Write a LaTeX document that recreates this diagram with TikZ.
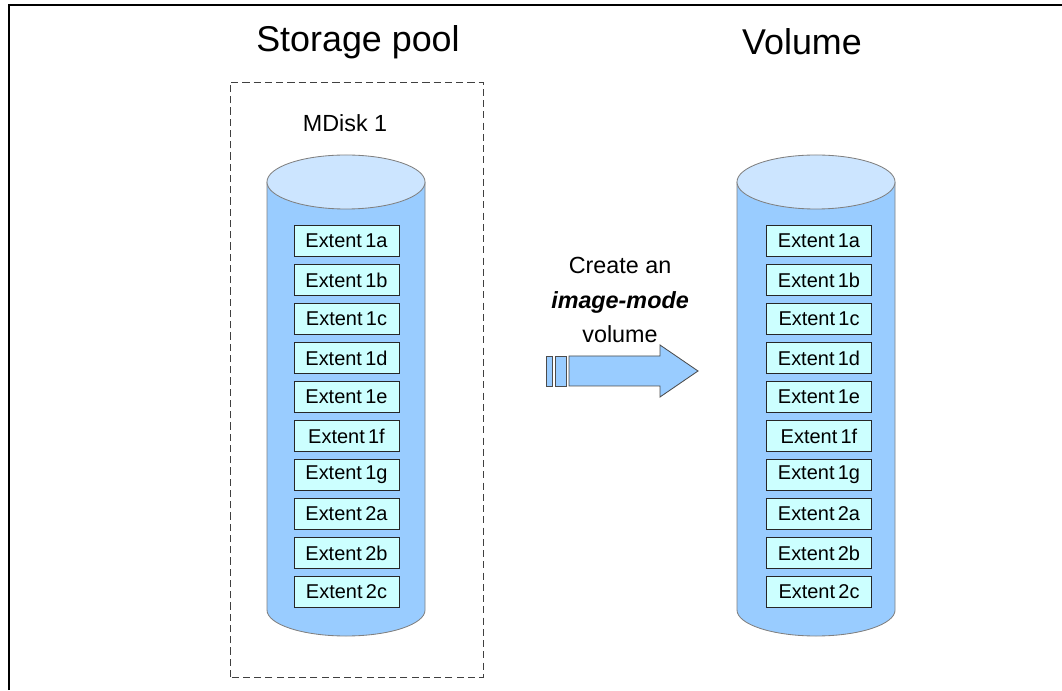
\documentclass[tikz,border=0pt]{standalone}
\usepackage{fontspec}
\setmainfont{Liberation Sans}
\usepackage{xcolor}
\definecolor{diskBody}{HTML}{99CCFF}
\definecolor{diskTop}{HTML}{CCE5FF}
\definecolor{extentBg}{HTML}{CCFFFF}
\definecolor{diskEdge}{HTML}{808080}
\usepackage{tikz}
\usetikzlibrary{positioning,calc}
\tikzset{%
  extentBox/.style={%
    rectangle,
    draw=black!85,
    line width=0.6pt,
    fill=extentBg,
    minimum width=2.625cm,
    minimum height=0.775cm,
    inner sep=0pt,
    font=\fontsize{14.2}{16}\selectfont
  },
  titleText/.style={%
    font=\fontsize{25.5}{30}\selectfont
  },
  labelText/.style={%
    font=\fontsize{16.6}{24.8}\selectfont,
    align=center
  },
  diskLine/.style={%
    draw=diskEdge,
    line width=0.6pt
  },
  arrowPart/.style={%
    draw=black!70,
    line width=0.6pt,
    fill=diskBody
  }
}

\begin{document}
\begin{tikzpicture}[x=0.025cm,y=0.025cm]
  \useasboundingbox (0,0) rectangle (1062,690);
  % frame
  \draw[line width=1.4pt] (9,0) -- (9,685) -- (1062,685);

  % storage pool
  \draw[dashed,dash pattern=on 5pt off 3pt,black!75,line width=0.6pt] (230,13) rectangle (483,608);
  \node[titleText] (poolTitle) at (358,648) {Storage pool};
  \node[titleText] (volTitle) at (802,648) {Volume};
  \node[labelText] (mdisk) at (345,567) {MDisk 1};

  % the two disks
  \foreach \cx in {346,816}{
    \fill[diskBody] (\cx-79,508) -- (\cx-79,80)
      arc[start angle=180,end angle=360,x radius=1.975cm,y radius=0.65cm]
      -- (\cx+79,508) -- cycle;
    \draw[diskLine] (\cx-79,508) -- (\cx-79,80)
      arc[start angle=180,end angle=360,x radius=1.975cm,y radius=0.65cm]
      -- (\cx+79,508);
    \draw[diskLine,fill=diskTop] (\cx,508) ellipse[x radius=1.975cm,y radius=0.675cm];
  }

  % extents
  \foreach \ext [count=\i from 0] in {1a,1b,1c,1d,1e,1f,1g,2a,2b,2c}{
    \node[extentBox] (pool-\ext) at (346.5,{449-39*\i}) {Extent\,\ext};
    \node[extentBox] (vol-\ext) at (819,{449-39*\i}) {Extent\,\ext};
  }

  % arrow
  \node[labelText] (create) at (620,390) {Create an\\\textbf{\textit{image-mode}}\\volume};
  \draw[arrowPart] (546,304) rectangle (552,334);
  \draw[arrowPart] (555,304) rectangle (566,334);
  \draw[arrowPart] (569,304) -- (660,304) -- (660,293) -- (698,319)
    -- (660,345) -- (660,334) -- (569,334) -- cycle;
\end{tikzpicture}
\end{document}
